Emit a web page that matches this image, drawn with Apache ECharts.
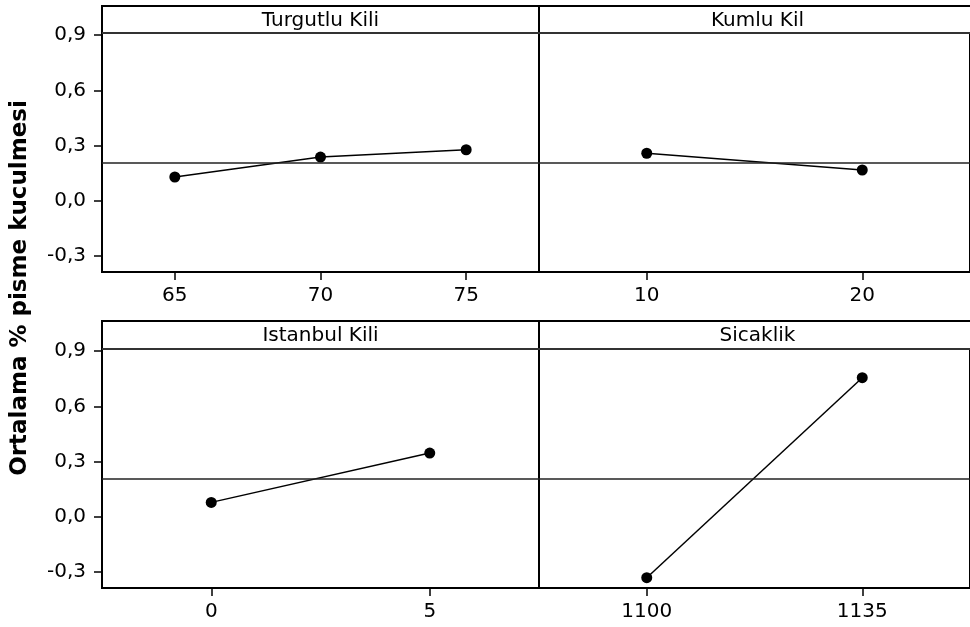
<!DOCTYPE html>
<html>
<head>
<meta charset="utf-8">
<script src="https://cdn.jsdelivr.net/npm/echarts@6/dist/echarts.min.js"></script>
<style>html,body{margin:0;padding:0;background:#fff;}#c{width:970px;height:627px;}</style>
</head>
<body>
<div id="c"></div>
<script>
// ---- data ----
const panelTitles = ['Turgutlu Kili', 'Kumlu Kil', 'Istanbul Kili', 'Sicaklik'];
const turgutluLevels = [65, 70, 75];
const turgutluMeans = [0.130, 0.238, 0.278];
const kumluLevels = [10, 20];
const kumluMeans = [0.259, 0.168];
const istanbulLevels = [0, 5];
const istanbulMeans = [0.079, 0.347];
const sicaklikLevels = [1100, 1135];
const sicaklikMeans = [-0.330, 0.756];
const grandMean = [0.214];
const yTicks = [-0.3, 0, 0.3, 0.6, 0.9];
const yAxisTitle = 'Ortalama % pisme kuculmesi';

// ---- layout ----
const FONT = 'DejaVu Sans';
const yMin = -0.386, yMax = 0.912;
const panels = [
  {levels: turgutluLevels, means: turgutluMeans, left: 102, top: 33, stripTop: 6, xmin: 62.5, xmax: 77.5, showY: true},
  {levels: kumluLevels, means: kumluMeans, left: 539, top: 33, stripTop: 6, xmin: 5, xmax: 25, showY: false},
  {levels: istanbulLevels, means: istanbulMeans, left: 102, top: 349, stripTop: 321, xmin: -2.5, xmax: 7.5, showY: true},
  {levels: sicaklikLevels, means: sicaklikMeans, left: 539, top: 349, stripTop: 321, xmin: 1082.5, xmax: 1152.5, showY: false}
];
const W = 437, H = 239;

const grids = [], xAxes = [], yAxes = [], series = [], graphics = [];
panels.forEach((p, i) => {
  grids.push({left: p.left, top: p.top, width: W, height: H, show: true, borderColor: '#000', borderWidth: 2, backgroundColor: '#fff', containLabel: false});
  xAxes.push({
    type: 'value', gridIndex: i, min: p.xmin, max: p.xmax,
    axisLine: {show: true, onZero: false, lineStyle: {color: '#000', width: 2}},
    axisTick: {show: true, customValues: p.levels, length: 8, lineStyle: {color: '#000', width: 1.5}},
    axisLabel: {show: true, customValues: p.levels, fontFamily: FONT, fontSize: 20, color: '#000', margin: 14,
      formatter: v => String(v)},
    splitLine: {show: false}
  });
  yAxes.push({
    type: 'value', gridIndex: i, min: yMin, max: yMax,
    axisLine: {show: p.showY, onZero: false, lineStyle: {color: '#000', width: 2}},
    axisTick: {show: p.showY, customValues: yTicks, length: 8, lineStyle: {color: '#000', width: 1.5}},
    axisLabel: {show: p.showY, customValues: yTicks, fontFamily: FONT, fontSize: 20, color: '#000', margin: 16,
      formatter: v => v.toFixed(1).replace('.', ',')},
    splitLine: {show: false}
  });
  series.push({
    type: 'line', xAxisIndex: i, yAxisIndex: i,
    data: p.levels.map((x, k) => [x, p.means[k]]),
    symbol: 'circle', symbolSize: 11,
    itemStyle: {color: '#000'},
    lineStyle: {color: '#000', width: 1.5},
    silent: true, animation: false,
    markLine: {
      silent: true, symbol: 'none', animation: false,
      label: {show: false},
      lineStyle: {color: '#222', width: 1.5, type: 'solid'},
      data: [{yAxis: grandMean[0]}]
    }
  });
  // strip header
  graphics.push({
    type: 'rect', z: 10,
    shape: {x: p.left, y: p.stripTop, width: W, height: p.top - p.stripTop},
    style: {fill: '#fff', stroke: '#000', lineWidth: 2}
  });
  graphics.push({
    type: 'line', z: 11,
    shape: {x1: p.left, y1: p.top, x2: p.left + W, y2: p.top},
    style: {stroke: '#333', lineWidth: 2}
  });
  graphics.push({
    type: 'text', z: 12,
    x: p.left + W / 2, y: (p.stripTop + p.top) / 2 + 1,
    style: {text: panelTitles[i], fill: '#000', font: '20px "' + FONT + '"', align: 'center', verticalAlign: 'middle'}
  });
});
graphics.push({
  type: 'text', z: 12,
  x: 20, y: 288, rotation: Math.PI / 2,
  style: {text: yAxisTitle, fill: '#000', font: 'bold 23px "' + FONT + '"', align: 'center', verticalAlign: 'middle'}
});

const chart = echarts.init(document.getElementById('c'), null, {renderer: 'canvas'});
chart.setOption({
  animation: false,
  backgroundColor: '#fff',
  grid: grids, xAxis: xAxes, yAxis: yAxes, series: series,
  graphic: graphics
});
</script>
</body>
</html>
